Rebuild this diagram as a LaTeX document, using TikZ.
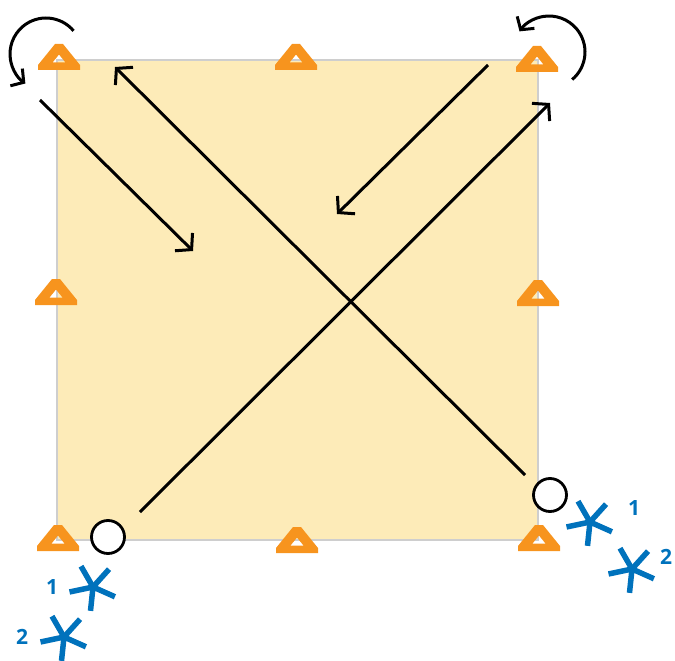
\documentclass[tikz,border=0pt]{standalone}
\usepackage{fontspec}
\setsansfont{Open Sans}
\usetikzlibrary{arrows.meta}

\definecolor{panel}{RGB}{253,235,184}
\definecolor{frame}{RGB}{206,206,206}
\definecolor{support}{RGB}{247,148,30}
\definecolor{axis}{RGB}{0,114,188}

\begin{document}
\begin{tikzpicture}[
    x=1pt, y=-1pt,
    move/.style={-{Straight Barb[length=11pt,width=25pt]}, line width=3pt},
    turn/.style={-{Straight Barb[length=9pt,width=21pt]}, line width=3pt},
    hinge/.style={circle, draw, line width=2.8pt, fill=white, minimum size=33pt, inner sep=0pt},
    arm/.style={axis, line width=5.5pt},
    num/.style={text=axis, inner sep=0pt, font=\sffamily\bfseries\fontsize{21}{21}\selectfont}
  ]
    \useasboundingbox (0,0) rectangle (675,661);

    % plate
    \filldraw[fill=panel, draw=frame, line width=2pt] (57,60) rectangle (538,540);

    % supports
    \foreach \p in {(59,57),(296,57),(537,59),(56,292),(538,293),(58,538),(297,540),(539,538)}
      \fill[support, even odd rule, shift={\p}] (-21,13) -- (21,13) -- (21,8) -- (4,-13) -- (-4,-13) -- (-21,8) -- cycle
        (-6.5,5.5) -- (6.5,5.5) -- (0,-2.5) -- cycle;

    % diagonals
    \coordinate (d1s) at (140,512);
    \coordinate (d1e) at (550,103);
    \coordinate (d2s) at (525,475);
    \coordinate (d2e) at (115,67);
    \draw[move] (d1s) -- (d1e);
    \draw[move] (d2s) -- (d2e);

    % short arrows
    \coordinate (s1s) at (40,100);
    \coordinate (s1e) at (193,251);
    \coordinate (s2s) at (488,65);
    \coordinate (s2e) at (337,214);
    \draw[move] (s1s) -- (s1e);
    \draw[move] (s2s) -- (s2e);

    % rotations
    \draw[turn] ([shift={(-40:36)}]46,54) arc[start angle=-40, end angle=-235, radius=36];
    \draw[turn] ([shift={(50:36)}]549,52) arc[start angle=50, end angle=-145, radius=36];

    % hinges
    \node[hinge] (hingeL) at (108,537) {};
    \node[hinge] (hingeR) at (550,495) {};

    % local axes
    \coordinate (starL1) at (93,587);
    \coordinate (starL2) at (64,637);
    \coordinate (starR1) at (590,522);
    \coordinate (starR2) at (632,569);
    \foreach \c in {starL1,starL2,starR1,starR2}
      \foreach \k in {0,...,4}
        \draw[arm] (\c) -- ++({-48-72*\k}:24);
    \node[num] (numL1) at (52,587) {1};
    \node[num] (numL2) at (22,637) {2};
    \node[num] (numR1) at (634,508) {1};
    \node[num] (numR2) at (666,557) {2};
  \end{tikzpicture}
\end{document}
